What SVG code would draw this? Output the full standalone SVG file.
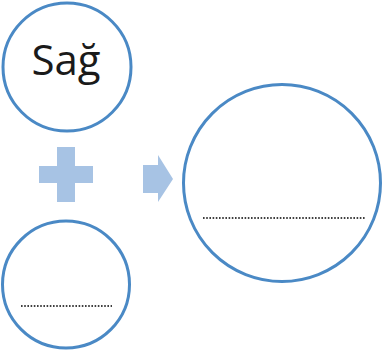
<svg xmlns="http://www.w3.org/2000/svg" width="382" height="354" viewBox="0 0 382 354">
<style>
.c{fill:#fff;stroke:#4A89C5;stroke-width:3}
.d{stroke:#000;stroke-width:1.6;stroke-dasharray:1.6 1.6}
.s{fill:#A7C3E4}
.t{font-family:"Open Sans","Liberation Sans",sans-serif;font-size:42px;fill:#1a1a1a}
</style>
<g id="sag"><circle class="c" cx="67" cy="67" r="64"/><text class="t" x="66" y="75" text-anchor="middle">Sağ</text></g>
<g id="plus"><path class="s" d="M57 147H75V166H93V183H75V202H57V183H39V166H57Z"/></g>
<g id="bottom"><circle class="c" cx="66" cy="284.5" r="63.5"/><line class="d" x1="21" y1="306" x2="112" y2="306"/></g>
<g id="connectors"><path class="s" d="M143 165H158V155L173 179L158 202V193H143Z"/></g>
<g id="result"><circle class="c" cx="282" cy="183" r="98.5"/><line class="d" x1="203" y1="218" x2="366" y2="218"/></g>
</svg>
